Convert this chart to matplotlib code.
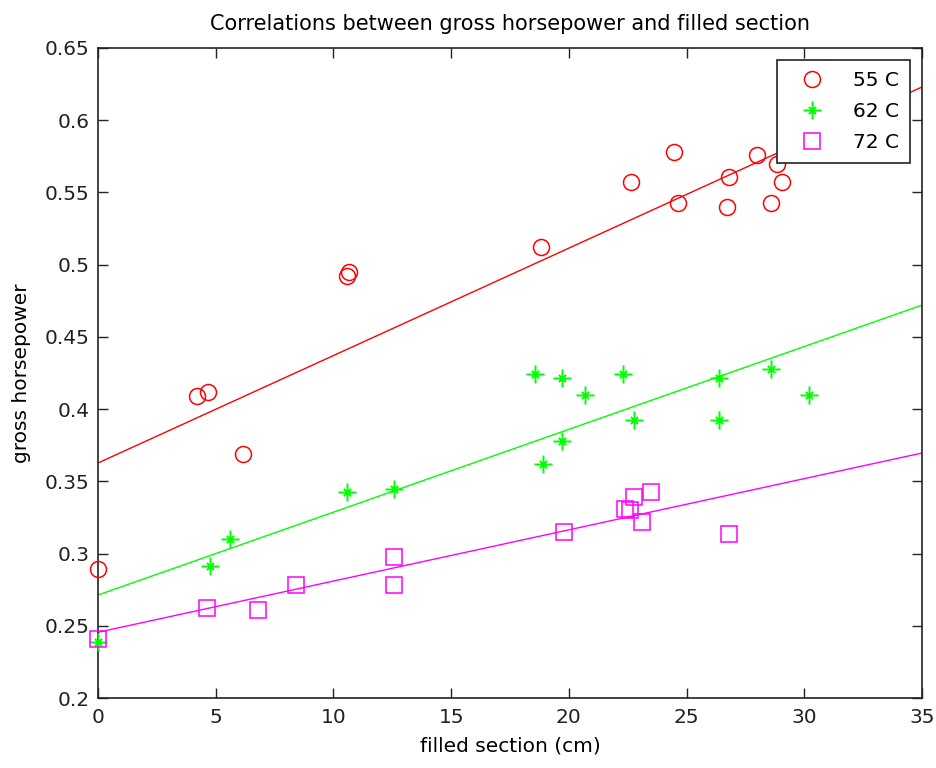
import matplotlib
matplotlib.use("Agg")
import matplotlib.pyplot as plt
from matplotlib.path import Path

# ---- data ----
x55 = [0.0, 4.19, 4.68, 6.15, 10.56, 10.68, 18.82, 22.62, 24.48, 24.64, 26.73, 26.80, 28.0, 28.83, 29.07, 28.57]
y55 = [0.289, 0.409, 0.412, 0.369, 0.492, 0.495, 0.512, 0.557, 0.578, 0.5425, 0.540, 0.561, 0.5757, 0.570, 0.557, 0.5425]

x62 = [0.01, 4.76, 5.61, 10.56, 12.57, 18.58, 18.90, 19.71, 19.71, 20.69, 22.30, 22.77, 26.39, 26.39, 28.58, 30.20]
y62 = [0.239, 0.2914, 0.3098, 0.3424, 0.3447, 0.4241, 0.3622, 0.4213, 0.3781, 0.4095, 0.4241, 0.3925, 0.4215, 0.3925, 0.428, 0.4095]

x72 = [0.0, 4.62, 6.78, 8.41, 12.59, 12.59, 19.78, 22.38, 22.60, 22.78, 23.50, 23.11, 26.81]
y72 = [0.241, 0.2625, 0.2609, 0.2782, 0.2978, 0.2782, 0.3149, 0.3306, 0.3302, 0.3389, 0.3424, 0.3216, 0.3137]

fit_x = [0, 35]
fit55 = [0.3627, 0.623]
fit62 = [0.2713, 0.472]
fit72 = [0.2455, 0.3696]

labels = ["55 C", "62 C", "72 C"]
xticks = [0, 5, 10, 15, 20, 25, 30, 35]
yticks = [0.2, 0.25, 0.3, 0.35, 0.4, 0.45, 0.5, 0.55, 0.6, 0.65]
ytick_labels = ["0.2", "0.25", "0.3", "0.35", "0.4", "0.45", "0.5", "0.55", "0.6", "0.65"]

# MATLAB-like asterisk marker: long plus arms with short diagonals
d = 0.4
star_path = Path(
    [(-1, 0), (1, 0), (0, -1), (0, 1), (-d, -d), (d, d), (-d, d), (d, -d)],
    [Path.MOVETO, Path.LINETO, Path.MOVETO, Path.LINETO,
     Path.MOVETO, Path.LINETO, Path.MOVETO, Path.LINETO])

plt.rcParams['font.family'] = ['DejaVu Sans']
fig = plt.figure(figsize=(9.36, 7.68), dpi=100)
ax = fig.add_axes([98/936, 1 - 698/768, (922-98)/936, (698-48)/768])

red, green, mag = '#ff0000', '#00ff00', '#ff00ff'

ax.plot(x55, y55, linestyle='none', marker='o', markersize=11.5, markerfacecolor='none',
        markeredgecolor=red, markeredgewidth=1.1, label=labels[0], clip_on=False, zorder=3)
ax.plot(x62, y62, linestyle='none', marker=star_path, markersize=13, markerfacecolor='none',
        markeredgecolor=green, markeredgewidth=1.4, label=labels[1], clip_on=False, zorder=3)
ax.plot(x72, y72, linestyle='none', marker='s', markersize=11.5, markerfacecolor='none',
        markeredgecolor=mag, markeredgewidth=1.1, label=labels[2], clip_on=False, zorder=3)

ax.plot(fit_x, fit55, color=red, linewidth=1.0)
ax.plot(fit_x, fit62, color=green, linewidth=1.0)
ax.plot(fit_x, fit72, color=mag, linewidth=1.0)

ax.set_xlim(0, 35)
ax.set_ylim(0.2, 0.65)
ax.set_xticks(xticks)
ax.set_yticks(yticks)
ax.set_yticklabels(ytick_labels)
ax.tick_params(direction='in', length=7, width=1, labelsize=14.5, top=True, right=True,
               colors='#222222')
ax.tick_params(axis='x', pad=7)
ax.tick_params(axis='y', pad=6)
for s in ax.spines.values():
    s.set_linewidth(1.2)
    s.set_color('#222222')

ax.set_title("Correlations between gross horsepower and filled section", fontsize=15, pad=13)
ax.set_xlabel("filled section (cm)", fontsize=14.5, labelpad=7)
ax.set_ylabel("gross horsepower", fontsize=14.5, labelpad=10)

leg = ax.legend(loc='upper right', fontsize=14.5, fancybox=False, framealpha=1,
                edgecolor='#222222', borderpad=0.55, handletextpad=0.9, handlelength=2.3,
                labelspacing=0.6, borderaxespad=0.6)
leg.get_frame().set_linewidth(1.2)

fig.savefig("out.png", dpi=100)
